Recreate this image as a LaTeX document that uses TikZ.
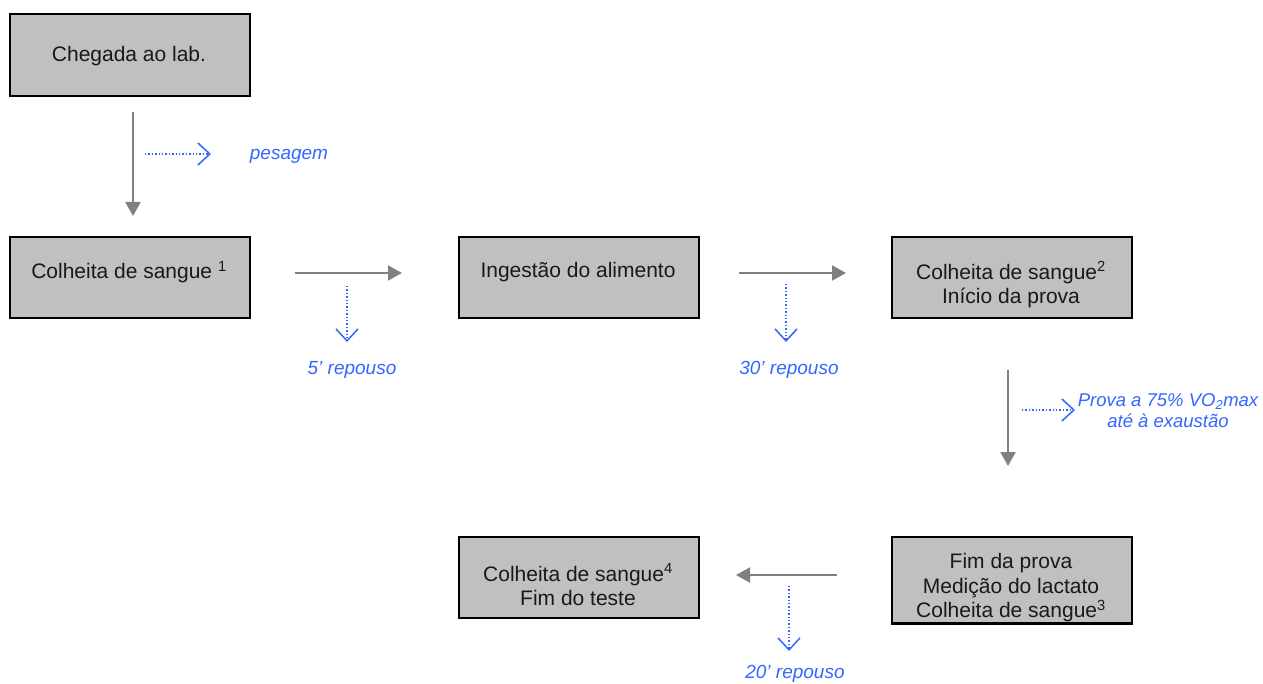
\documentclass[tikz,border=0pt]{standalone}
\usepackage{fontspec}
\setmainfont{Liberation Sans}
\usetikzlibrary{arrows.meta}
\definecolor{boxgray}{HTML}{C0C0C0}
\definecolor{arrgray}{HTML}{808080}
\definecolor{lblue}{HTML}{3366FF}
\begin{document}
\begin{tikzpicture}[x=1pt,y=-1pt,
 box/.style={draw=black, line width=2pt, fill=boxgray, minimum width=240pt, inner sep=0pt, anchor=north west},
 btext/.style={font=\fontsize{21}{24.5}\selectfont, align=center, text=black!90, inner sep=0pt},
 garrow/.style={draw=arrgray, line width=2pt, -{Triangle[length=14pt,width=15pt]}},
 barrow/.style={draw=lblue, line width=1.4pt, dotted, -{Straight Barb[length=12pt,width=22pt,line width=1.5pt]}},
 blabel/.style={font=\fontsize{19}{21}\selectfont\itshape, text=lblue, align=center, inner sep=0pt}]
\useasboundingbox (0,0) rectangle (1263,684);

% boxes
\node[box, minimum height=82pt] (b1) at (9,13) {};
\node[box, minimum height=81pt] (b2) at (9,236) {};
\node[box, minimum height=81pt] (b3) at (458,236) {};
\node[box, minimum height=81pt] (b4) at (891,236) {};
\node[box, minimum height=86pt] (b5) at (891,536) {};
\node[box, minimum height=81pt] (b6) at (458,536) {};

% texts
\node[btext] (t1) at (129,56) {Chegada ao lab.};
\node[btext] (t2) at (129,272) {Colheita de sangue \textsuperscript{1}};
\node[btext] (t3) at (578,272) {Ingestão do alimento};
\node[btext] (t4) at (1011,285) {Colheita de sangue\textsuperscript{2}\\Início da prova};
\node[btext] (t6) at (578,585) {Colheita de sangue\textsuperscript{4}\\Fim do teste};
\begin{scope}
\clip (b5.north west) rectangle ([yshift=1pt]b5.south east);
\node[btext] (t5) at (1011,588) {Fim da prova\\Medição do lactato\\Colheita de sangue\textsuperscript{3}};
\end{scope}
\draw[black, line width=2pt] (b5.south west) -- (b5.south east);

% gray arrows
\coordinate (g1s) at (133,112); \coordinate (g1e) at (133,216);
\coordinate (g2s) at (295,273); \coordinate (g2e) at (402,273);
\coordinate (g3s) at (739,273); \coordinate (g3e) at (846,273);
\coordinate (g4s) at (1008,370); \coordinate (g4e) at (1008,466);
\coordinate (g5s) at (837,575); \coordinate (g5e) at (736,575);
\draw[garrow] (g1s) -- (g1e);
\draw[garrow] (g2s) -- (g2e);
\draw[garrow] (g3s) -- (g3e);
\draw[garrow] (g4s) -- (g4e);
\draw[garrow] (g5s) -- (g5e);

% blue dotted arrows
\coordinate (d1s) at (145,154); \coordinate (d1e) at (211,154);
\coordinate (d2s) at (347,286); \coordinate (d2e) at (347,342);
\coordinate (d3s) at (786,284); \coordinate (d3e) at (786,342);
\coordinate (d4s) at (1022,410); \coordinate (d4e) at (1075,410);
\coordinate (d5s) at (789,586); \coordinate (d5e) at (789,651);
\draw[barrow] (d1s) -- (d1e);
\draw[barrow] (d2s) -- (d2e);
\draw[barrow] (d3s) -- (d3e);
\draw[barrow] (d4s) -- (d4e);
\draw[barrow] (d5s) -- (d5e);

% blue labels
\node[blabel] (l1) at (289,156) {pesagem};
\node[blabel] (l2) at (352,370) {5’ repouso};
\node[blabel] (l3) at (789,370) {30’ repouso};
\node[blabel, font=\fontsize{18.5}{21}\selectfont\itshape] (l4) at (1168,411) {Prova a 75\% VO\textsubscript{2}max\\até à exaustão};
\node[blabel] (l5) at (795,674) {20’ repouso};
\end{tikzpicture}
\end{document}
